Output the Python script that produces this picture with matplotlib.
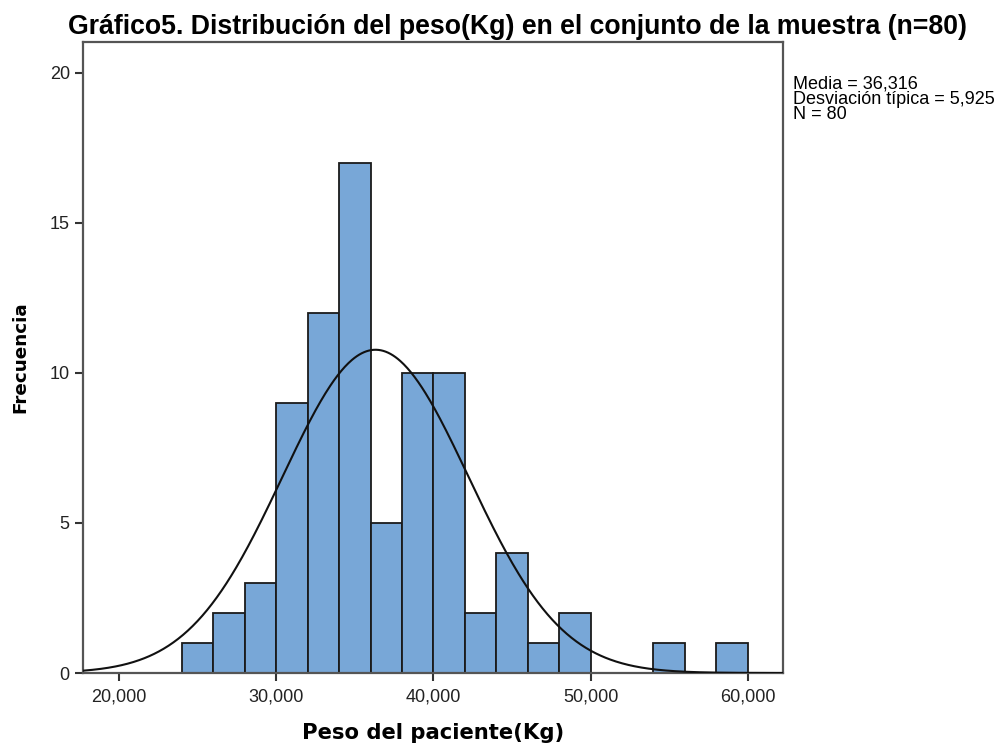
import numpy as np
import matplotlib
matplotlib.use("Agg")
import matplotlib.pyplot as plt
from matplotlib.ticker import FuncFormatter

# Data
bin_edges = [24, 26, 28, 30, 32, 34, 36, 38, 40, 42, 44, 46, 48, 50, 52, 54, 56, 58, 60]
counts = [1, 2, 3, 9, 12, 17, 5, 10, 10, 2, 4, 1, 2, 0, 0, 1, 0, 1]
mean = 36.316
std = 5.925
n = 80
x_ticks = [20, 30, 40, 50, 60]
y_ticks = [0, 5, 10, 15, 20]

plt.rcParams['font.family'] = ['Liberation Sans', 'DejaVu Sans']

fig = plt.figure(figsize=(10, 7.43), dpi=100)
ax = fig.add_axes([0.083, 0.0942, 0.700, 0.8493])

edges = np.array(bin_edges, dtype=float)
widths = np.diff(edges)
ax.bar(edges[:-1], counts, width=widths, align='edge', color='#78a7d7',
       edgecolor='#1a1a1a', linewidth=1.3, zorder=2)

xs = np.linspace(17.0, 63.0, 600)
bw = widths[0]
ys = n * bw * np.exp(-0.5 * ((xs - mean) / std) ** 2) / (std * np.sqrt(2 * np.pi))
ax.plot(xs, ys, color='#111111', linewidth=1.5, zorder=3)

ax.set_xlim(17.7, 62.25)
ax.set_ylim(0, 21.03)
ax.set_xticks(x_ticks)
ax.set_yticks(y_ticks)
ax.xaxis.set_major_formatter(FuncFormatter(lambda v, p: f"{int(v)},000"))
ax.tick_params(axis='both', direction='out', length=6, width=1.5, color='#333333',
               labelsize=13, labelcolor='#222222')
ax.tick_params(axis='x', pad=5)
for s in ax.spines.values():
    s.set_color('#555555')
    s.set_linewidth(1.6)

ax.set_xlabel('Peso del paciente(Kg)', fontsize=15.2, fontweight='bold',
              family=['DejaVu Sans'])
ax.xaxis.set_label_coords(0.5, -0.079)
ax.set_ylabel('Frecuencia', fontsize=13.2, fontweight='bold',
              family=['DejaVu Sans'])
ax.yaxis.set_label_coords(-0.077, 0.5)

fig.text(0.517, 0.963, 'Gráfico5. Distribución del peso(Kg) en el conjunto de la muestra (n=80)',
         ha='center', va='center', fontsize=19.2, fontweight='bold')

fig.text(0.793, 0.898,
         f'Media = {str(mean).replace(".", ",")}\nDesviación típica = {str(std).replace(".", ",")}\nN = {n}',
         ha='left', va='top', fontsize=13, linespacing=0.85)

fig.savefig('out.png', dpi=100)
